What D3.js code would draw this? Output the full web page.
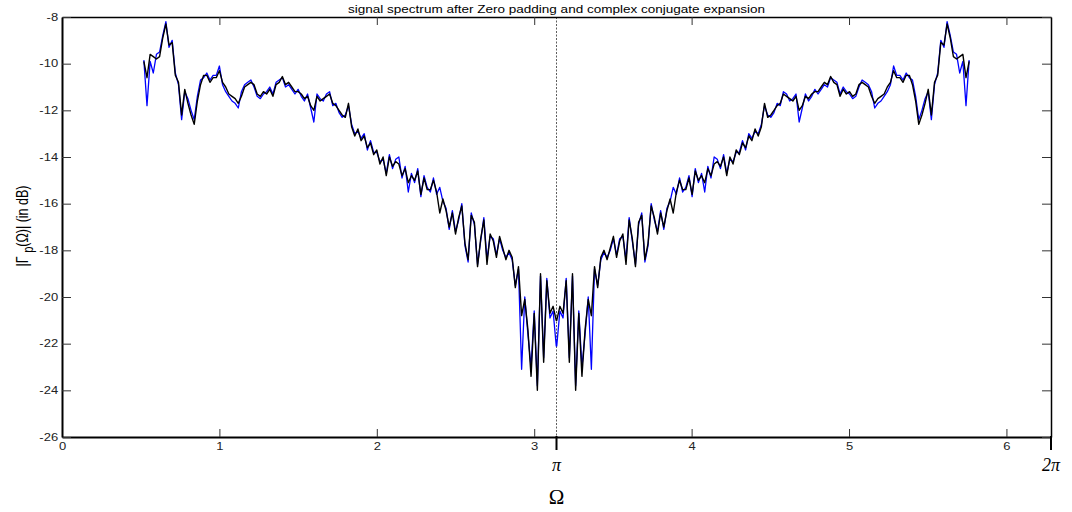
<!DOCTYPE html>
<html><head><meta charset="utf-8">
<script src="https://cdn.jsdelivr.net/npm/d3@7"></script>
<style>body{margin:0;background:#fff}svg{display:block}</style>
</head><body><svg id="c" width="1072" height="512"></svg>
<script>
// Sampling grid of the left half (Ω, rad); right half is its conjugate-symmetric image 2π-Ω
const omegaStart = 0.52, omegaStep = 0.02, nHalf = 132;

const blackLeft = [
 -9.9,-10.6,-9.6,-9.7,-9.8,-9.7,-8.9,-8.3,-9.2,-9.1,
 -10.5,-10.8,-12.2,-11.1,-11.7,-12.2,-12.6,-11.6,-10.9,-10.5,
 -10.5,-10.8,-10.6,-10.6,-10.3,-10.8,-11.0,-11.3,-11.4,-11.5,
 -11.7,-11.4,-11.0,-10.9,-10.8,-10.9,-11.3,-11.4,-11.2,-11.3,
 -11.1,-11.4,-10.9,-10.8,-10.55,-10.9,-10.8,-11.0,-11.2,-11.2,
 -11.3,-11.5,-11.4,-11.8,-12.0,-11.4,-11.6,-11.5,-11.4,-11.3,
 -11.7,-11.8,-12.0,-12.2,-12.3,-11.7,-12.7,-13.1,-12.8,-13.3,
 -13.1,-13.6,-13.4,-13.9,-13.7,-14.3,-14.0,-14.8,-14.0,-14.4,
 -14.2,-14.3,-14.8,-14.5,-15.1,-14.8,-15.0,-14.6,-15.6,-14.9,
 -15.4,-15.4,-15.0,-15.5,-16.4,-15.8,-16.3,-17.0,-16.4,-17.3,
 -16.6,-16.1,-17.7,-18.4,-16.5,-16.8,-18.7,-17.5,-16.7,-18.6,
 -17.3,-17.6,-18.3,-17.4,-17.9,-18.4,-18.0,-18.3,-19.6,-18.7,
 -20.8,-20.1,-21.4,-23.4,-20.7,-24.0,-19.0,-22.8,-19.3,-20.7,
 -20.4,-21.0];

const blueLeft = [
 -9.85,-11.8,-9.9,-10.4,-9.6,-9.5,-8.8,-8.2,-9.3,-9.0,
 -10.4,-10.9,-12.4,-11.2,-11.5,-12.0,-12.4,-11.4,-10.7,-10.6,
 -10.4,-10.7,-10.5,-10.5,-10.1,-10.9,-11.2,-11.4,-11.6,-11.7,
 -11.9,-11.2,-10.9,-10.8,-10.7,-11.0,-11.4,-11.5,-11.3,-11.2,
 -11.0,-11.3,-10.8,-10.7,-10.6,-11.0,-10.9,-11.1,-11.3,-11.1,
 -11.4,-11.6,-11.3,-11.9,-12.5,-11.3,-11.5,-11.6,-11.3,-11.2,
 -11.8,-11.7,-12.1,-12.3,-12.2,-11.8,-12.6,-13.0,-12.9,-13.2,
 -13.0,-13.7,-13.3,-13.8,-13.8,-14.2,-14.1,-14.7,-13.9,-14.5,
 -14.1,-14.0,-14.9,-14.4,-15.5,-14.7,-15.1,-14.5,-15.7,-14.8,
 -15.3,-15.5,-14.9,-15.6,-15.3,-15.9,-16.2,-17.1,-16.3,-17.2,
 -16.7,-16.0,-17.8,-18.5,-16.4,-16.9,-18.6,-17.6,-16.6,-18.4,
 -17.4,-17.5,-18.2,-17.5,-18.0,-18.3,-18.1,-18.4,-19.5,-18.8,
 -23.1,-20.0,-21.6,-23.0,-20.6,-23.8,-19.1,-22.6,-19.2,-20.9,
 -20.6,-22.1];

const blackRight = [
 -21.0,-20.4,
 -20.7,-19.3,-22.8,-19.0,-24.0,-20.7,-23.4,-21.4,-20.1,-20.8,
 -18.7,-19.6,-18.3,-18.0,-18.4,-17.9,-17.4,-18.3,-17.6,-17.3,
 -18.6,-16.7,-17.5,-18.7,-16.8,-16.5,-18.4,-17.7,-16.1,-16.6,
 -17.3,-16.4,-17.0,-16.3,-15.8,-16.4,-15.5,-15.0,-15.4,-15.4,
 -14.9,-15.6,-14.6,-15.0,-14.8,-15.1,-14.5,-14.8,-14.3,-14.2,
 -14.4,-14.0,-14.8,-14.0,-14.3,-13.7,-13.9,-13.4,-13.6,-13.1,
 -13.3,-12.8,-13.1,-12.7,-11.7,-12.3,-12.2,-12.0,-11.8,-11.7,
 -11.3,-11.4,-11.5,-11.6,-11.4,-12.0,-11.8,-11.4,-11.5,-11.3,
 -11.2,-11.2,-11.0,-10.8,-10.9,-10.55,-10.8,-10.9,-11.4,-11.1,
 -11.3,-11.2,-11.4,-11.3,-10.9,-10.8,-10.9,-11.0,-11.4,-11.7,
 -11.5,-11.4,-11.3,-11.0,-10.8,-10.3,-10.6,-10.6,-10.8,-10.5,
 -10.5,-10.9,-11.6,-12.6,-12.2,-11.7,-11.1,-12.2,-10.8,-10.5,
 -9.1,-9.2,-8.3,-8.9,-9.7,-9.8,-9.7,-9.6,-10.6,-9.9];

const blueRight = [
 -22.1,-20.6,
 -20.9,-19.2,-22.6,-19.1,-23.8,-20.6,-23.0,-21.6,-20.0,-23.1,
 -18.8,-19.5,-18.4,-18.1,-18.3,-18.0,-17.5,-18.2,-17.5,-17.4,
 -18.4,-16.6,-17.6,-18.6,-16.9,-16.4,-18.5,-17.8,-16.0,-16.7,
 -17.2,-16.3,-17.1,-16.2,-15.9,-15.3,-15.6,-14.9,-15.5,-15.3,
 -14.8,-15.7,-14.5,-15.1,-14.7,-15.5,-14.4,-14.9,-14.0,-14.1,
 -14.5,-13.9,-14.7,-14.1,-14.2,-13.8,-13.8,-13.3,-13.7,-13.0,
 -13.2,-12.9,-13.0,-12.6,-11.8,-12.2,-12.3,-12.1,-11.7,-11.8,
 -11.2,-11.3,-11.6,-11.5,-11.3,-12.5,-11.9,-11.3,-11.6,-11.4,
 -11.1,-11.3,-11.1,-10.9,-11.0,-10.6,-10.7,-10.8,-11.3,-11.0,
 -11.2,-11.3,-11.5,-11.4,-11.0,-10.7,-10.8,-10.9,-11.2,-11.9,
 -11.7,-11.6,-11.4,-11.2,-10.9,-10.1,-10.5,-10.5,-10.7,-10.4,
 -10.6,-10.7,-11.4,-12.4,-12.0,-11.5,-11.2,-12.4,-10.9,-10.4,
 -9.0,-9.3,-8.2,-8.8,-9.5,-9.6,-10.4,-9.9,-11.8,-9.85];

const xTicks = [0,1,2,3,4,5,6];
const yTicks = [-8,-10,-12,-14,-16,-18,-20,-22,-24,-26];
const specialTicks = [Math.PI, 2*Math.PI];
const specialLabels = ["π", "2π"];
const titleText = "signal spectrum after Zero padding and complex conjugate expansion";

const svg = d3.select("#c");
const L = 62, R = 1051, T = 17, B = 437;
const x = d3.scaleLinear().domain([0, 2*Math.PI]).range([L, R]);
const y = d3.scaleLinear().domain([-26, -8]).range([B, T]);

const omegaLeft = d3.range(nHalf).map(i => omegaStart + omegaStep * i);
const omegaRight = omegaLeft.slice().reverse().map(w => 2*Math.PI - w);
const pts = (wl, vl, wr, vr) => wl.map((w,i)=>[w, vl[i]]).concat(wr.map((w,i)=>[w, vr[i]]));
const blueData = pts(omegaLeft, blueLeft, omegaRight, blueRight);
const blackData = pts(omegaLeft, blackLeft, omegaRight, blackRight);

const font = "'Liberation Sans', Arial, sans-serif";
const stretch = "scale(1.3,1)";

// title
svg.append("text").attr("x", x(Math.PI)).attr("y", 13).attr("text-anchor","middle")
  .attr("textLength", 417).attr("lengthAdjust","spacingAndGlyphs")
  .style("font-family", font).style("font-size","11px").text(titleText);

// dashed line at pi
svg.append("line").attr("x1", x(Math.PI)).attr("x2", x(Math.PI)).attr("y1", T).attr("y2", B)
  .attr("stroke","#333").attr("stroke-width",0.8).attr("stroke-dasharray","2,1.5");

const line = d3.line().x(d => x(d[0])).y(d => y(d[1]));
svg.append("path").datum(blueData).attr("d", line).attr("fill","none")
  .attr("stroke","#0000ff").attr("stroke-width",1.3).attr("stroke-linejoin","round");
svg.append("path").datum(blackData).attr("d", line).attr("fill","none")
  .attr("stroke","#000").attr("stroke-width",1.4).attr("stroke-linejoin","round");

function styleAxis(g, w) {
  g.select(".domain").attr("stroke","#000").attr("stroke-width", w);
  g.selectAll(".tick line").attr("stroke","#333").attr("stroke-width",1);
  g.selectAll(".tick text").style("font-family", font).style("font-size","10px").attr("fill","#222");
}

const gx = svg.append("g").attr("transform",`translate(0,${B})`)
  .call(d3.axisBottom(x).tickValues(xTicks).tickFormat(d3.format("d")).tickSize(-8).tickSizeOuter(0).tickPadding(6));
styleAxis(gx, 2);
gx.selectAll(".tick text").attr("transform", stretch);
const gt = svg.append("g").attr("transform",`translate(0,${T})`)
  .call(d3.axisTop(x).tickValues(xTicks).tickFormat("").tickSize(-8).tickSizeOuter(0));
styleAxis(gt, 1.5);
const gy = svg.append("g").attr("transform",`translate(${L},0)`)
  .call(d3.axisLeft(y).tickValues(yTicks).tickFormat(d3.format("d")).tickSize(-9).tickSizeOuter(0).tickPadding(3));
styleAxis(gy, 2);
gy.selectAll(".tick text").text(d => String(d)).attr("transform", stretch);
const gr = svg.append("g").attr("transform",`translate(${R},0)`)
  .call(d3.axisRight(y).tickValues(yTicks).tickFormat("").tickSize(-9).tickSizeOuter(0));
styleAxis(gr, 1.5);

// pi / 2pi ticks
specialTicks.forEach((v,i) => {
  svg.append("line").attr("x1", x(v)).attr("x2", x(v)).attr("y1", B - 1).attr("y2", B + 13)
    .attr("stroke","#000").attr("stroke-width",2);
  svg.append("text").attr("x", x(v)).attr("y", 471).attr("text-anchor","middle")
    .style("font-family","'Liberation Serif','DejaVu Serif',serif").style("font-style","italic")
    .style("font-size","18px").text(specialLabels[i]);
});

// x label
svg.append("text").attr("x", x(Math.PI)).attr("y", 504).attr("text-anchor","middle")
  .style("font-family","'Liberation Serif','DejaVu Serif',serif").style("font-size","21px").text("Ω");

// y label
const yl = svg.append("text").attr("transform","translate(28,226) rotate(-90) scale(1,1.25)").attr("text-anchor","middle")
  .style("font-family", font).style("font-size","12.5px");
yl.append("tspan").text("|Γ ");
yl.append("tspan").attr("dy", 4).style("font-size","11px").text("p");
yl.append("tspan").attr("dy", -4).text("(Ω)| (in dB)");
</script>
</body></html>
